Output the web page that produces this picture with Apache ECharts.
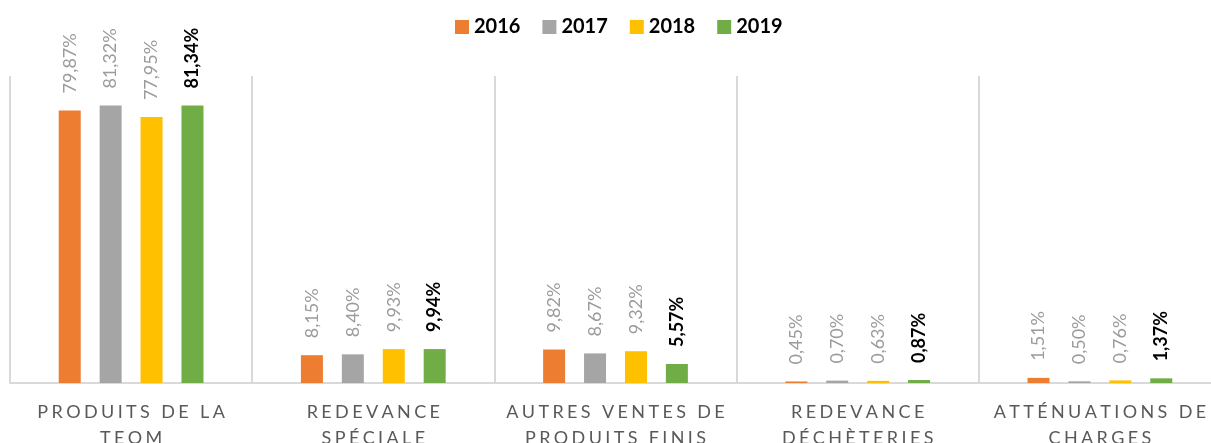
<!DOCTYPE html>
<html>
<head>
<meta charset="utf-8">
<script src="https://cdn.jsdelivr.net/npm/echarts@6/dist/echarts.min.js"></script>
<style>
  html, body { margin: 0; padding: 0; background: #fff; }
  #chart { width: 1211px; height: 443px; }
</style>
</head>
<body>
<div id="chart"></div>
<script>
// catégories (axe x)
const categories = [
  'PRODUITS DE LA\nTEOM',
  'REDEVANCE\nSPÉCIALE',
  'AUTRES VENTES DE\nPRODUITS FINIS',
  'REDEVANCE\nDÉCHÈTERIES',
  'ATTÉNUATIONS DE\nCHARGES'
]
// séries (en %)
const years = ['2016', '2017', '2018', '2019']
const values2016 = [79.87, 8.15, 9.82, 0.45, 1.51]
const values2017 = [81.32, 8.40, 8.67, 0.70, 0.50]
const values2018 = [77.95, 9.93, 9.32, 0.63, 0.76]
const values2019 = [81.34, 9.94, 5.57, 0.87, 1.37]
const colors = ['#ED7D31', '#A5A5A5', '#FFC000', '#70AD47']

const font = 'Lato'

// format français : virgule décimale
const fmt = (p) => p.value.toFixed(2).replace('.', ',') + '%'
// espacement des lettres (pas de letterSpacing dans zrender)
const spaced = (s) => s.split('\n').map((l) => l.split('').join('\u2009\u200A')).join('\n')

const makeSeries = (name, data, index) => {
  const last = index === years.length - 1
  return {
    name: name,
    type: 'bar',
    data: data,
    barWidth: 22,
    barGap: '86%',
    itemStyle: { color: colors[index] },
    label: {
      show: true,
      position: 'top',
      rotate: 90,
      align: 'left',
      verticalAlign: 'middle',
      distance: 17,
      formatter: fmt,
      fontFamily: font,
      fontSize: 18,
      fontWeight: last ? 'bold' : 'normal',
      color: last ? '#000' : '#9b9b9b'
    }
  }
}

const chart = echarts.init(document.getElementById('chart'))
const option = {
  animation: false,
  textStyle: { fontFamily: font },
  legend: {
    top: 12,
    left: 450,
    icon: 'rect',
    itemWidth: 14,
    itemHeight: 14,
    itemGap: 22,
    textStyle: { fontFamily: font, fontSize: 20, fontWeight: 'bold', color: '#000' },
    data: years
  },
  grid: { left: 10, right: -10, top: 76, bottom: 60, outerBoundsMode: 'none', containLabel: false },
  xAxis: {
    type: 'category',
    data: categories,
    axisLine: { lineStyle: { color: '#d9d9d9', width: 2 } },
    axisTick: { show: false },
    splitLine: { show: true, interval: 0, lineStyle: { color: '#d9d9d9', width: 2 } },
    axisLabel: {
      interval: 0,
      margin: 16,
      color: '#595959',
      fontFamily: font,
      fontSize: 18,
      lineHeight: 26,
      formatter: spaced
    }
  },
  yAxis: {
    type: 'value',
    min: 0,
    max: 90,
    show: false,
    splitLine: { show: false }
  },
  series: [
    makeSeries(years[0], values2016, 0),
    makeSeries(years[1], values2017, 1),
    makeSeries(years[2], values2018, 2),
    makeSeries(years[3], values2019, 3)
  ]
}
chart.setOption(option)
</script>
</body>
</html>
